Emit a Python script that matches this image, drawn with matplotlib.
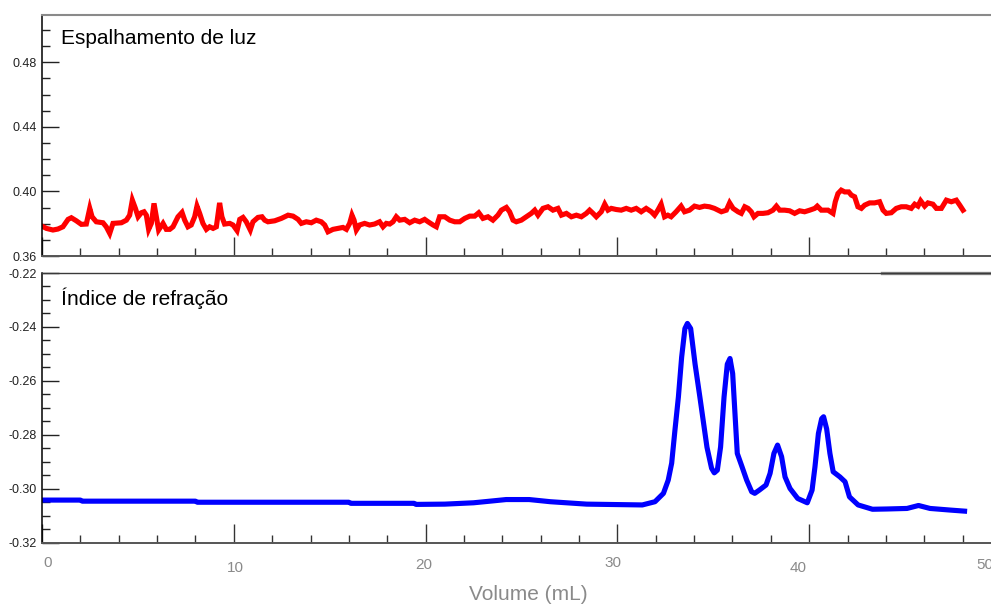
import matplotlib
matplotlib.use("Agg")
import matplotlib.pyplot as plt
from matplotlib.ticker import MultipleLocator
from matplotlib.transforms import ScaledTranslation, blended_transform_factory

plt.rcParams['font.family'] = ['Liberation Sans', 'DejaVu Sans']
plt.rcParams['axes.unicode_minus'] = False

# ---------------- data ----------------
light_x = [0.00, 0.23, 0.57, 0.83, 1.09, 1.36, 1.53, 1.79, 2.05, 2.31, 2.49, 2.61, 2.83, 3.18, 3.35,
           3.53, 3.70, 4.14, 4.40, 4.57, 4.71, 4.87, 5.01, 5.18, 5.32, 5.44, 5.56, 5.70, 5.84, 5.96,
           6.08, 6.31, 6.48, 6.66, 6.83, 7.09, 7.30, 7.44, 7.61, 7.78, 7.96, 8.08, 8.22, 8.39, 8.57,
           8.74, 8.92, 9.09, 9.26, 9.38, 9.52, 9.79, 9.96, 10.17, 10.31, 10.48, 10.65, 10.86, 11.00,
           11.26, 11.47, 11.61, 11.78, 12.13, 12.48, 12.83, 13.09, 13.35, 13.52, 13.78, 14.04, 14.30,
           14.56, 14.74, 14.91, 15.17, 15.43, 15.69, 15.87, 16.04, 16.16, 16.27, 16.39, 16.56, 16.82,
           17.08, 17.34, 17.60, 17.78, 17.95, 18.13, 18.30, 18.47, 18.65, 18.91, 19.17, 19.43, 19.69,
           19.95, 20.13, 20.39, 20.56, 20.73, 21.00, 21.26, 21.52, 21.78, 22.04, 22.30, 22.56, 22.77,
           22.99, 23.25, 23.51, 23.77, 23.95, 24.21, 24.38, 24.56, 24.73, 24.99, 25.25, 25.51, 25.69,
           25.86, 26.12, 26.38, 26.64, 26.90, 27.08, 27.34, 27.60, 27.86, 28.12, 28.38, 28.55, 28.73,
           28.90, 29.16, 29.34, 29.51, 29.68, 29.94, 30.20, 30.46, 30.72, 30.98, 31.24, 31.50, 31.77,
           31.94, 32.11, 32.28, 32.46, 32.63, 32.80, 33.06, 33.32, 33.50, 33.76, 34.02, 34.28, 34.54,
           34.80, 35.06, 35.42, 35.68, 35.85, 36.03, 36.29, 36.46, 36.64, 36.81, 36.98, 37.12, 37.33,
           37.59, 37.85, 38.11, 38.29, 38.46, 38.72, 38.98, 39.24, 39.50, 39.76, 40.03, 40.29, 40.42,
           40.63, 40.98, 41.24, 41.36, 41.50, 41.67, 41.85, 42.06, 42.20, 42.37, 42.54, 42.72, 42.89,
           43.15, 43.41, 43.67, 43.85, 44.02, 44.28, 44.54, 44.80, 45.06, 45.32, 45.50, 45.67, 45.81,
           46.02, 46.19, 46.45, 46.63, 46.89, 47.15, 47.41, 47.67, 47.85, 48.02]
light_y = [0.3785, 0.3771, 0.3761, 0.3767, 0.3781, 0.3827, 0.3837, 0.3818, 0.3796, 0.3798, 0.3895,
           0.3843, 0.3812, 0.3806, 0.3781, 0.3740, 0.3802, 0.3806, 0.3822, 0.3853, 0.3946, 0.3895,
           0.3843, 0.3868, 0.3874, 0.3853, 0.3765, 0.3802, 0.3926, 0.3843, 0.3761, 0.3802, 0.3765,
           0.3765, 0.3781, 0.3843, 0.3870, 0.3822, 0.3781, 0.3792, 0.3843, 0.3909, 0.3864, 0.3802,
           0.3765, 0.3781, 0.3771, 0.3781, 0.3929, 0.3843, 0.3798, 0.3802, 0.3792, 0.3757, 0.3827,
           0.3839, 0.3812, 0.3761, 0.3812, 0.3839, 0.3843, 0.3822, 0.3812, 0.3818, 0.3833, 0.3853,
           0.3847, 0.3827, 0.3802, 0.3812, 0.3806, 0.3822, 0.3812, 0.3792, 0.3750, 0.3765, 0.3771,
           0.3777, 0.3765, 0.3802, 0.3853, 0.3822, 0.3761, 0.3792, 0.3802, 0.3792, 0.3798, 0.3812,
           0.3781, 0.3802, 0.3798, 0.3812, 0.3843, 0.3822, 0.3827, 0.3806, 0.3822, 0.3812, 0.3827,
           0.3812, 0.3792, 0.3781, 0.3843, 0.3843, 0.3822, 0.3812, 0.3812, 0.3833, 0.3847, 0.3847,
           0.3868, 0.3833, 0.3843, 0.3822, 0.3853, 0.3884, 0.3901, 0.3874, 0.3822, 0.3812, 0.3822,
           0.3843, 0.3864, 0.3884, 0.3853, 0.3895, 0.3905, 0.3884, 0.3895, 0.3853, 0.3864, 0.3843,
           0.3853, 0.3843, 0.3864, 0.3884, 0.3864, 0.3843, 0.3874, 0.3921, 0.3884, 0.3895, 0.3888,
           0.3884, 0.3895, 0.3884, 0.3895, 0.3874, 0.3895, 0.3874, 0.3853, 0.3884, 0.3921, 0.3843,
           0.3853, 0.3843, 0.3874, 0.3909, 0.3874, 0.3884, 0.3909, 0.3901, 0.3909, 0.3905, 0.3895,
           0.3874, 0.3884, 0.3929, 0.3895, 0.3874, 0.3864, 0.3905, 0.3895, 0.3874, 0.3843, 0.3864,
           0.3864, 0.3868, 0.3884, 0.3909, 0.3884, 0.3884, 0.3880, 0.3864, 0.3880, 0.3874, 0.3884,
           0.3895, 0.3909, 0.3884, 0.3884, 0.3864, 0.3936, 0.3987, 0.4008, 0.3997, 0.3997, 0.3977,
           0.3967, 0.3905, 0.3895, 0.3915, 0.3929, 0.3929, 0.3936, 0.3884, 0.3864, 0.3868, 0.3895,
           0.3905, 0.3905, 0.3895, 0.3921, 0.3909, 0.3942, 0.3909, 0.3929, 0.3921, 0.3895, 0.3895,
           0.3946, 0.3936, 0.3946, 0.3915, 0.3884]

ri_x = [0.0, 2.0, 2.1, 8.0, 8.1, 16.0, 16.1, 19.4, 19.5, 21.0, 22.5, 23.5, 24.2, 25.4, 26.5, 28.4,
        31.3, 31.96, 32.4, 32.65, 32.83, 33.0, 33.18, 33.35, 33.52, 33.65, 33.82, 34.05, 34.3,
        34.67, 34.91, 35.05, 35.21, 35.38, 35.56, 35.73, 35.87, 36.01, 36.13, 36.25, 36.5, 36.74,
        37.0, 37.16, 37.4, 37.75, 37.96, 38.16, 38.35, 38.56, 38.74, 39.0, 39.4, 39.9, 40.15, 40.3,
        40.48, 40.65, 40.75, 40.91, 41.08, 41.25, 41.6, 41.87, 42.1, 42.55, 43.3, 44.05, 45.1,
        45.7, 46.3, 47.35, 48.1]
ri_y = [-0.3042, -0.3042, -0.3046, -0.3046, -0.3050, -0.3050, -0.3054, -0.3054, -0.3058, -0.3057,
        -0.3052, -0.3045, -0.3040, -0.3040, -0.3048, -0.3057, -0.3060, -0.3048, -0.3017, -0.2968,
        -0.2905, -0.2783, -0.2660, -0.2512, -0.2406, -0.2387, -0.2406, -0.2538, -0.2660, -0.2846,
        -0.2924, -0.2941, -0.2931, -0.2845, -0.2660, -0.2538, -0.2517, -0.2573, -0.2721, -0.2869,
        -0.2919, -0.2968, -0.3011, -0.3017, -0.3005, -0.2986, -0.2943, -0.2869, -0.2838, -0.2881,
        -0.2956, -0.2999, -0.3036, -0.3052, -0.3005, -0.2919, -0.2795, -0.2740, -0.2733, -0.2778,
        -0.2869, -0.2937, -0.2956, -0.2974, -0.3030, -0.3060, -0.3076, -0.3075, -0.3073, -0.3062,
        -0.3073, -0.3079, -0.3083]

top_yticks = [0.36, 0.40, 0.44, 0.48]
top_yticklabels = ["0.36", "0.40", "0.44", "0.48"]
bot_yticks = [-0.32, -0.30, -0.28, -0.26, -0.24, -0.22]
bot_yticklabels = ["-0.32", "-0.30", "-0.28", "-0.26", "-0.24", "-0.22"]
xticks = [0, 10, 20, 30, 40, 50]
xticklabels = ["0", "10", "20", "30", "40", "50"]

title_top = "Espalhamento de luz"
title_bot = "Índice de refração"
xlabel = "Volume (mL)"

# ---------------- layout ----------------
W, H = 991, 606
fig = plt.figure(figsize=(W / 100, H / 100), dpi=100)


def px_axes(left, top, right, bottom):
    return [left / W, 1 - bottom / H, (right - left) / W, (bottom - top) / H]


ax1 = fig.add_axes(px_axes(42, 15, 1001, 256))
ax2 = fig.add_axes(px_axes(42, 273, 1001, 542.7))

ax1.plot(light_x, light_y, color='#ff0000', lw=3.7, solid_joinstyle='miter')
ax2.plot(ri_x, ri_y, color='#0000ff', lw=3.7)

ax1.set_xlim(0, 50)
ax2.set_xlim(0, 50)
ax1.set_ylim(0.36, 0.5093)
ax2.set_ylim(-0.32, -0.22)

for ax in (ax1, ax2):
    ax.spines['right'].set_visible(False)
    ax.spines['left'].set_color('#000000')
    ax.spines['left'].set_linewidth(1.1)
    ax.spines['bottom'].set_color('#555555')
    ax.spines['bottom'].set_linewidth(1.4)
    ax.set_xticks(xticks)
    ax.xaxis.set_minor_locator(MultipleLocator(2))
    ax.tick_params(axis='x', which='major', direction='in', length=13.5, width=1.0,
                   color='#333333', labelbottom=False)
    ax.tick_params(axis='x', which='minor', direction='in', length=5.8, width=1.0,
                   color='#333333')
    ax.tick_params(axis='y', which='major', direction='in', length=12.2, width=1.0,
                   color='#222222', labelsize=9, labelcolor='#222222', pad=3.5)
    ax.tick_params(axis='y', which='minor', direction='in', length=5.8, width=1.0,
                   color='#222222')

ax1.spines['top'].set_color('#8a8a8a')
ax1.spines['top'].set_linewidth(1.5)
ax2.spines['top'].set_color('#3a3a3a')
ax2.spines['top'].set_linewidth(1.0)

ax1.set_yticks(top_yticks)
ax1.set_yticklabels(top_yticklabels)
ax1.yaxis.set_minor_locator(MultipleLocator(0.01))
ax2.set_yticks(bot_yticks)
ax2.set_yticklabels(bot_yticklabels)
ax2.yaxis.set_minor_locator(MultipleLocator(0.005))

# grey segment on the top border of the lower panel
ax2.axhline(-0.22, xmin=(882 - 42) / 959, xmax=1, color='#8a8a8a', lw=2.4, clip_on=False)

ax1.text(0.0195, 0.8797, title_top, transform=ax1.transAxes, fontsize=15, va='baseline',
         color='#000000')
ax2.text(0.0195, 0.8813, title_bot, transform=ax2.transAxes, fontsize=15, va='baseline',
         color='#000000')

# x tick labels (slightly offset from the ticks, as in the original)
label_dx_px = [5.4, 2.0, -2.0, -4.4, -11.5, -16.0]
label_y_px = [563, 568, 565, 563, 568, 565]
base = blended_transform_factory(ax2.transData, fig.transFigure)
for val, lab, dx, ypx in zip(xticks, xticklabels, label_dx_px, label_y_px):
    tr = base + ScaledTranslation(dx / 100, 0, fig.dpi_scale_trans)
    ax2.text(val, 1 - ypx / H, lab, transform=tr, ha='center', va='center',
             fontsize=11, color='#8a8a8a', clip_on=False)

fig.text(528.6 / W, 1 - 595 / H, xlabel, ha='center', va='center', fontsize=15, color='#8a8a8a')

fig.savefig("out.png", dpi=100)
